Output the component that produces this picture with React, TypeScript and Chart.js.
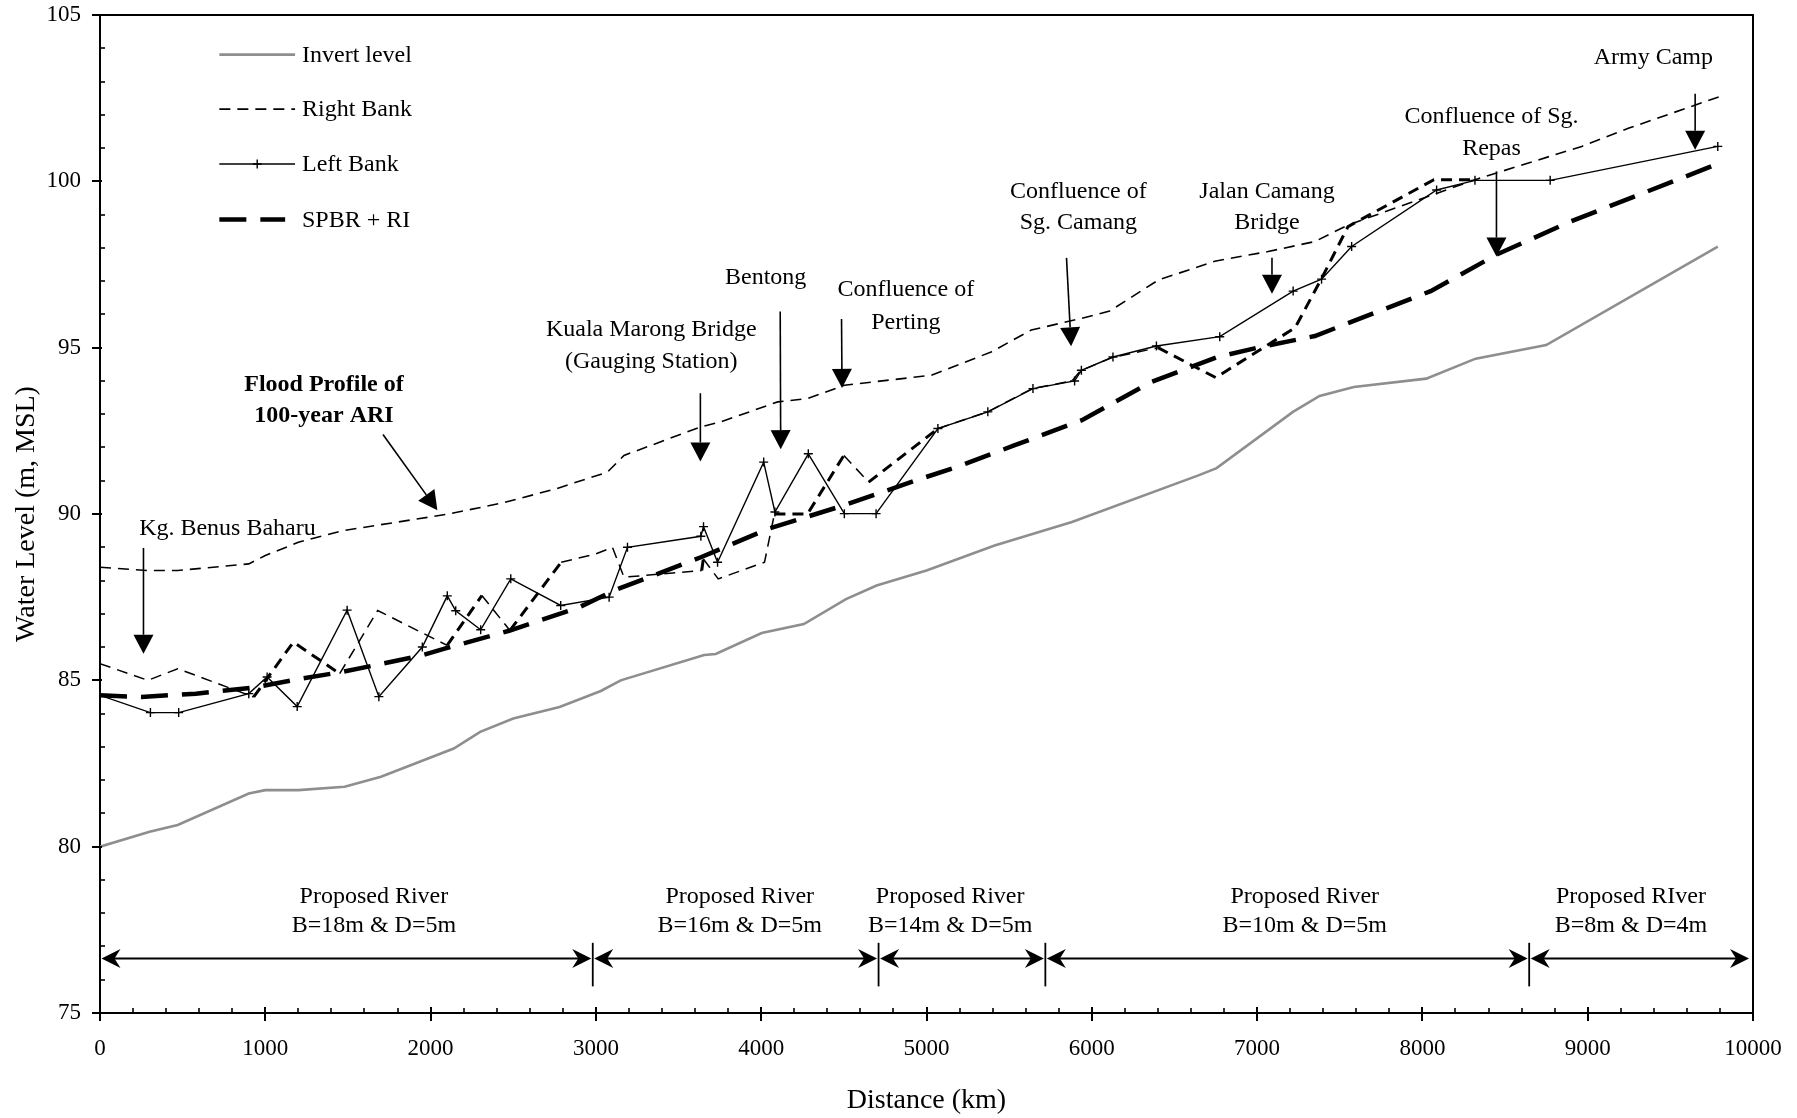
import React, { useEffect, useRef } from "react";
import { Chart, registerables } from "chart.js";

Chart.register(...registerables);

const FONT = "'Liberation Serif', 'Times New Roman', serif";

// ---------------- data ----------------
const seriesLabels = ["Invert level", "Right Bank", "Left Bank", "SPBR + RI"];

const invertX = [0, 300, 470, 900, 1000, 1200, 1480, 1700, 2140, 2300, 2500, 2780, 3030, 3150, 3655, 3725, 4003, 4258, 4513, 4698, 5000, 5412, 5880, 6645, 6755, 7217, 7378, 7585, 8023, 8322, 8749, 9787];
const invertY = [80.0, 80.45, 80.65, 81.6, 81.7, 81.7, 81.8, 82.1, 82.95, 83.45, 83.85, 84.2, 84.68, 85.0, 85.76, 85.79, 86.42, 86.69, 87.44, 87.85, 88.3, 89.05, 89.76, 91.16, 91.38, 93.07, 93.55, 93.82, 94.07, 94.67, 95.08, 98.04];

const floodX = [0, 290, 470, 900, 1000, 1200, 1470, 2110, 2450, 2760, 3070, 3170, 3635, 3756, 4100, 4281, 4503, 5028, 5391, 5634, 5936, 6108, 6401, 6744, 7067, 7349, 7551, 8318, 8964, 9250, 9800];
const floodY = [88.4, 88.3, 88.3, 88.5, 88.75, 89.15, 89.5, 90.0, 90.35, 90.76, 91.26, 91.76, 92.62, 92.77, 93.37, 93.47, 93.87, 94.17, 94.87, 95.53, 95.88, 96.1, 97.03, 97.6, 97.89, 98.19, 98.69, 100.05, 101.05, 101.6, 102.55];

const rightBankX = [0, 290, 470, 930, 1170, 1450, 1680, 2100, 2310, 2480, 2790, 3000, 3100, 3170, 3640, 3650, 3740, 4020, 4080, 4280, 4500, 4650, 5070, 5370, 5640, 5880, 5930, 6120, 6400, 6750, 7230, 7390, 7550, 8070, 8320];
const rightBankY = [85.5, 85.0, 85.35, 84.5, 86.15, 85.2, 87.1, 86.05, 87.55, 86.5, 88.55, 88.8, 89.0, 88.1, 88.3, 88.65, 88.05, 88.55, 90.0, 90.0, 91.76, 90.96, 92.57, 93.07, 93.77, 94.0, 94.3, 94.7, 95.0, 94.1, 95.6, 97.08, 98.64, 100.05, 100.05];
// which right-bank segments are drawn heavier in the original
const rightBankHeavy = [false, false, false, true, true, false, false, true, false, true, false, false, false, false, true, false, false, false, true, true, false, true, false, false, false, false, false, false, true, true, true, true, true, true];

const leftBankX = [0, 305, 476, 900, 1011, 1193, 1495, 1687, 1950, 2101, 2152, 2303, 2485, 2787, 3080, 3191, 3635, 3651, 3736, 4015, 4083, 4285, 4503, 4695, 5069, 5371, 5644, 5896, 5937, 6128, 6391, 6774, 7218, 7390, 7572, 8086, 8318, 8773, 9787];
const leftBankY = [84.55, 84.03, 84.03, 84.6, 85.1, 84.21, 87.11, 84.51, 86.0, 87.54, 87.09, 86.52, 88.05, 87.25, 87.5, 89.0, 89.33, 89.62, 88.55, 91.56, 90.06, 91.81, 90.01, 90.01, 92.57, 93.07, 93.77, 94.0, 94.32, 94.72, 95.05, 95.33, 96.7, 97.06, 98.04, 99.74, 100.03, 100.03, 101.05];

const spbrX = [0, 250, 580, 930, 1180, 1450, 1650, 1940, 2090, 2475, 2900, 3110, 3635, 4040, 4500, 4930, 5210, 5530, 5940, 6360, 6760, 7030, 7350, 8050, 8450, 8900, 9800];
const spbrY = [84.55, 84.5, 84.6, 84.78, 85.02, 85.24, 85.44, 85.74, 85.96, 86.49, 87.2, 87.7, 88.7, 89.55, 90.26, 91.0, 91.46, 92.06, 92.82, 93.97, 94.72, 95.03, 95.35, 96.7, 97.8, 98.8, 100.55];

// annotation texts (one entry per line, data coordinates of the line centre)
const noteText = ["Kg. Benus Baharu", "Flood Profile of", "100-year ARI", "Kuala Marong Bridge", "(Gauging Station)", "Bentong", "Confluence of", "Perting", "Confluence of", "Sg. Camang", "Jalan Camang", "Bridge", "Confluence of Sg.", "Repas", "Army Camp"];
const noteX = [771, 1355, 1355, 3335, 3335, 4027, 4875, 4875, 5919, 5919, 7060, 7060, 8418, 8418, 9397];
const noteY = [89.55, 93.88, 92.94, 95.53, 94.59, 97.09, 96.74, 95.74, 99.7, 98.75, 99.7, 98.75, 101.95, 100.97, 103.71];
const noteBold = [false, true, true, false, false, false, false, false, false, false, false, false, false, false, false];

// pointer arrows: start -> tip
const arrowX1 = [263, 1712, 3632, 4115, 4486, 5847, 7090, 8448, 9650];
const arrowY1 = [88.98, 92.39, 93.63, 96.09, 95.86, 97.7, 97.7, 100.3, 102.63];
const arrowX2 = [263, 2041, 3632, 4118, 4489, 5875, 7090, 8448, 9650];
const arrowY2 = [85.8, 90.11, 91.58, 91.95, 93.79, 95.04, 96.62, 97.74, 100.95];

// proposed river sections
const sectionBreaks = [0, 2981, 4710, 5719, 8646, 9985];
const sectionLine1 = ["Proposed River", "Proposed River", "Proposed River", "Proposed River", "Proposed RIver"];
const sectionLine2 = ["B=18m & D=5m", "B=16m & D=5m", "B=14m & D=5m", "B=10m & D=5m", "B=8m & D=4m"];
const sectionLabelX = [1657, 3870, 5143, 7288, 9262];

const toPts = (xs: number[], ys: number[]) => xs.map((x, i) => ({ x, y: ys[i] }));

// ---------------- overlay plugin ----------------
const overlay = {
  id: "overlay",
  afterDraw(chart: any) {
    const { ctx, chartArea: a } = chart;
    const sx = chart.scales.x;
    const sy = chart.scales.y;
    const px = (v: number) => sx.getPixelForValue(v);
    const py = (v: number) => sy.getPixelForValue(v);
    ctx.save();
    ctx.strokeStyle = "#000";
    ctx.fillStyle = "#000";
    ctx.setLineDash([]);

    // frame top and right
    ctx.lineWidth = 2;
    ctx.beginPath();
    ctx.moveTo(a.left, a.top);
    ctx.lineTo(a.right, a.top);
    ctx.lineTo(a.right, a.bottom);
    ctx.stroke();

    // x ticks
    for (let v = 0; v <= 10000; v += 200) {
      const X = Math.round(px(v));
      ctx.beginPath();
      if (v % 1000 === 0) {
        ctx.lineWidth = 2;
        ctx.moveTo(X, a.bottom - 6);
        ctx.lineTo(X, a.bottom + 8);
      } else {
        ctx.lineWidth = 1.6;
        ctx.moveTo(X, a.bottom - 5);
        ctx.lineTo(X, a.bottom);
      }
      ctx.stroke();
    }
    // y ticks
    for (let v = 75; v <= 105; v += 1) {
      const Y = Math.round(py(v));
      ctx.beginPath();
      if (v % 5 === 0) {
        ctx.lineWidth = 2;
        ctx.moveTo(a.left - 8, Y);
        ctx.lineTo(a.left + 2, Y);
      } else {
        ctx.lineWidth = 1.6;
        ctx.moveTo(a.left, Y);
        ctx.lineTo(a.left + 5, Y);
      }
      ctx.stroke();
    }

    // legend
    const legY = [103.81, 102.17, 100.52, 98.85];
    const lx1 = px(722), lx2 = px(1180), ltx = px(1222);
    const dsets = chart.data.datasets;
    const legendDs = [0, 2, 3, 4];
    legendDs.forEach((di: number, i: number) => {
      const ds = dsets[di];
      const Y = py(legY[i]);
      ctx.save();
      ctx.strokeStyle = ds.borderColor;
      ctx.lineWidth = di === 2 ? 1.6 : ds.borderWidth;
      ctx.setLineDash(ds.borderDash || []);
      ctx.beginPath();
      ctx.moveTo(lx1, Y);
      ctx.lineTo(di === 4 ? px(1120) : lx2, Y);
      ctx.stroke();
      ctx.restore();
      if (di === 3) {
        const cx = (lx1 + lx2) / 2;
        ctx.lineWidth = 1.4;
        ctx.beginPath();
        ctx.moveTo(cx - 4.5, Y);
        ctx.lineTo(cx + 4.5, Y);
        ctx.moveTo(cx, Y - 4.5);
        ctx.lineTo(cx, Y + 4.5);
        ctx.stroke();
      }
      ctx.font = `24px ${FONT}`;
      ctx.textAlign = "left";
      ctx.textBaseline = "middle";
      ctx.fillText(seriesLabels[i], ltx, Y + 1);
    });

    // annotation texts
    ctx.textAlign = "center";
    ctx.textBaseline = "middle";
    noteText.forEach((t, i) => {
      ctx.font = `${noteBold[i] ? "bold " : ""}24px ${FONT}`;
      ctx.fillText(t, px(noteX[i]), py(noteY[i]));
    });

    // pointer arrows
    const drawArrow = (x1: number, y1: number, x2: number, y2: number) => {
      const ang = Math.atan2(y2 - y1, x2 - x1);
      const L = 19, W = 10;
      const bx = x2 - L * Math.cos(ang), by = y2 - L * Math.sin(ang);
      ctx.lineWidth = 1.6;
      ctx.beginPath();
      ctx.moveTo(x1, y1);
      ctx.lineTo(bx, by);
      ctx.stroke();
      ctx.beginPath();
      ctx.moveTo(x2, y2);
      ctx.lineTo(bx + W * Math.sin(ang), by - W * Math.cos(ang));
      ctx.lineTo(bx - W * Math.sin(ang), by + W * Math.cos(ang));
      ctx.closePath();
      ctx.fill();
    };
    arrowX1.forEach((_, i) => {
      drawArrow(px(arrowX1[i]), py(arrowY1[i]), px(arrowX2[i]), py(arrowY2[i]));
    });

    // section dimension lines
    const dimY = py(76.64);
    const stealth = (tx: number, dir: number) => {
      ctx.beginPath();
      ctx.moveTo(tx, dimY);
      ctx.lineTo(tx - dir * 19, dimY - 9.5);
      ctx.lineTo(tx - dir * 13, dimY);
      ctx.lineTo(tx - dir * 19, dimY + 9.5);
      ctx.closePath();
      ctx.fill();
    };
    for (let i = 0; i < sectionBreaks.length - 1; i++) {
      const xa = px(sectionBreaks[i]) + 1.5;
      const xb = px(sectionBreaks[i + 1]) - 1.5;
      ctx.lineWidth = 2;
      ctx.beginPath();
      ctx.moveTo(xa + 10, dimY);
      ctx.lineTo(xb - 10, dimY);
      ctx.stroke();
      stealth(xa, -1);
      stealth(xb, 1);
      ctx.font = `24px ${FONT}`;
      ctx.fillText(sectionLine1[i], px(sectionLabelX[i]), py(78.51));
      ctx.fillText(sectionLine2[i], px(sectionLabelX[i]), py(77.61));
    }
    ctx.lineWidth = 1.8;
    for (let i = 1; i < sectionBreaks.length - 1; i++) {
      const X = px(sectionBreaks[i]);
      ctx.beginPath();
      ctx.moveTo(X, py(77.11));
      ctx.lineTo(X, py(75.8));
      ctx.stroke();
    }
    ctx.restore();
  },
};

const zeroPad = (s: any) => {
  s.paddingTop = 0;
  s.paddingBottom = 0;
  s.paddingLeft = 0;
  s.paddingRight = 0;
};

export default function App() {
  const ref = useRef<HTMLCanvasElement>(null);

  useEffect(() => {
    const canvas = ref.current;
    if (!canvas) return;
    const chart = new Chart(canvas, {
      type: "line",
      data: {
        datasets: [
          {
            label: "Invert level",
            data: toPts(invertX, invertY),
            borderColor: "#8e8e8e",
            borderWidth: 2.6,
            pointRadius: 0,
            tension: 0,
          },
          {
            label: "Flood Profile of 100-year ARI",
            data: toPts(floodX, floodY),
            borderColor: "#000",
            borderWidth: 1.6,
            borderDash: [11, 7],
            pointRadius: 0,
            tension: 0,
          },
          {
            label: "Right Bank",
            data: toPts(rightBankX, rightBankY),
            borderColor: "#000",
            borderWidth: 1.6,
            borderDash: [11, 7],
            pointRadius: 0,
            tension: 0,
            segment: {
              borderWidth: (c: any) => (rightBankHeavy[c.p0DataIndex] ? 3 : 1.5),
            },
          },
          {
            label: "Left Bank",
            data: toPts(leftBankX, leftBankY),
            borderColor: "#000",
            borderWidth: 1.4,
            pointStyle: "cross",
            pointRadius: 4.5,
            pointBorderColor: "#000",
            pointBorderWidth: 1.4,
            tension: 0,
          },
          {
            label: "SPBR + RI",
            data: toPts(spbrX, spbrY),
            borderColor: "#000",
            borderWidth: 4.5,
            borderDash: [27, 14],
            pointRadius: 0,
            tension: 0,
          },
        ],
      } as any,
      options: {
        animation: false,
        responsive: false,
        devicePixelRatio: 1,
        layout: { padding: { top: 15, right: 44, left: 0, bottom: 0 } },
        plugins: {
          legend: { display: false },
          tooltip: { enabled: false },
        },
        scales: {
          x: {
            type: "linear",
            min: 0,
            max: 10000,
            afterFit: (s: any) => {
              s.height = 105;
              zeroPad(s);
            },
            ticks: {
              stepSize: 1000,
              color: "#000",
              padding: 22,
              maxRotation: 0,
              font: { family: FONT, size: 23 },
              callback: (v: any) => String(v),
            },
            grid: { display: true, drawOnChartArea: false, drawTicks: false },
            border: { display: true, color: "#000", width: 2 },
            title: {
              display: true,
              text: "Distance (km)",
              color: "#000",
              font: { family: FONT, size: 28 },
              padding: { top: 0, bottom: 1 },
            },
          },
          y: {
            type: "linear",
            min: 75,
            max: 105,
            afterFit: (s: any) => {
              s.width = 100;
              zeroPad(s);
            },
            ticks: {
              stepSize: 5,
              color: "#000",
              padding: 19,
              font: { family: FONT, size: 23 },
              callback: (v: any) => String(v),
            },
            grid: { display: true, drawOnChartArea: false, drawTicks: false },
            border: { display: true, color: "#000", width: 2 },
            title: {
              display: true,
              text: "Water Level (m, MSL)",
              color: "#000",
              font: { family: FONT, size: 28 },
              padding: { top: 10, bottom: 0 },
            },
          },
        },
      } as any,
      plugins: [overlay],
    });
    return () => chart.destroy();
  }, []);

  return (
    <div style={{ position: "fixed", left: 0, top: 0, width: 1797, height: 1118, background: "#fff" }}>
      <canvas ref={ref} width={1797} height={1118} style={{ display: "block", width: 1797, height: 1118 }} />
    </div>
  );
}
